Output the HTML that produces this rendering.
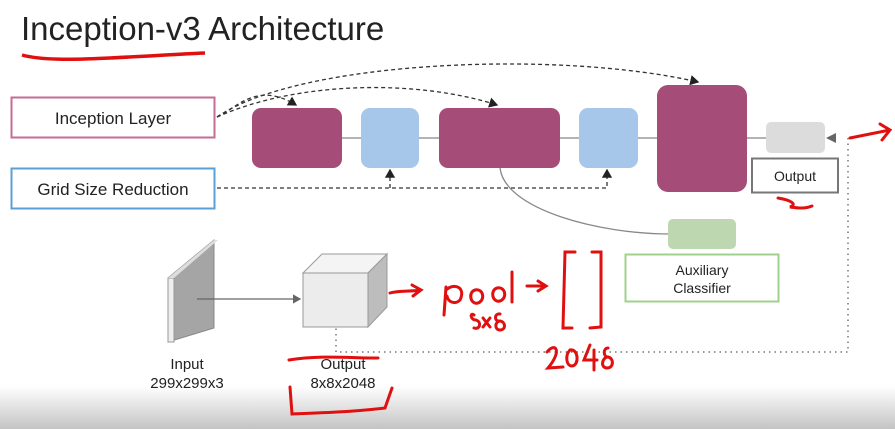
<!DOCTYPE html>
<html><head><style>
html,body{margin:0;padding:0;background:#fff;}
svg{display:block;font-family:"Liberation Sans",sans-serif;}
</style></head><body>
<svg width="895" height="429" viewBox="0 0 895 429" xmlns="http://www.w3.org/2000/svg">
<defs>
<linearGradient id="bg" x1="0" y1="0" x2="0" y2="1">
<stop offset="0" stop-color="#fff"/><stop offset="0.9" stop-color="#fff"/><stop offset="1" stop-color="#c4c4c4"/>
</linearGradient>
<marker id="ah" markerWidth="8" markerHeight="8" refX="6" refY="4" orient="auto"><path d="M0,0 L7,4 L0,8 z" fill="#222"/></marker>
<marker id="ag" markerWidth="8" markerHeight="8" refX="6" refY="4" orient="auto"><path d="M0,0 L7,4 L0,8 z" fill="#666"/></marker>
</defs>
<rect width="895" height="429" fill="url(#bg)"/>
<text x="21" y="40" font-size="33" fill="#222">Inception-v3 Architecture</text>
<path d="M22,55 C40,60 70,60 110,58 C150,56 180,54 205,53" stroke="#e01010" stroke-width="3.5" fill="none"/>
<!-- legend boxes -->
<rect x="11.5" y="97.5" width="203" height="40" fill="#fff" stroke="#c46b96" stroke-width="2"/>
<text x="113" y="124" font-size="17" text-anchor="middle" fill="#222">Inception Layer</text>
<rect x="11.5" y="168.5" width="203" height="40" fill="#fff" stroke="#5b9fd4" stroke-width="2"/>
<text x="113" y="195" font-size="17" text-anchor="middle" fill="#222">Grid Size Reduction</text>
<!-- dashed connectors -->
<g stroke="#333" stroke-width="1.3" fill="none" stroke-dasharray="4,3">
<path d="M217,117 C235,110 255,80 296,105" marker-end="url(#ah)"/>
<path d="M217,117 C300,80 420,80 497,105" marker-end="url(#ah)"/>
<path d="M217,117 C300,60 560,50 698,82" marker-end="url(#ah)"/>
<path d="M217,188 L607,188 L607,170" marker-end="url(#ah)"/>
<path d="M390,188 L390,170" marker-end="url(#ah)"/>
</g>
<!-- main line -->
<line x1="340" y1="138" x2="768" y2="138" stroke="#888" stroke-width="1.3"/>
<path d="M500,168 C505,210 600,234 670,234" stroke="#888" stroke-width="1.3" fill="none"/>
<rect x="252" y="108" width="90" height="60" rx="9" fill="#a54d78"/>
<rect x="361" y="108" width="58" height="60" rx="9" fill="#a6c7ea"/>
<rect x="439" y="108" width="121" height="60" rx="9" fill="#a54d78"/>
<rect x="579" y="108" width="59" height="60" rx="9" fill="#a6c7ea"/>
<rect x="657" y="85" width="90" height="107" rx="11" fill="#a54d78"/>
<rect x="766" y="122" width="59" height="31" rx="5" fill="#dcdcdc"/>
<rect x="752" y="158.5" width="86" height="34" fill="#fff" stroke="#777" stroke-width="2"/>
<text x="795" y="181" font-size="14" text-anchor="middle" fill="#222">Output</text>
<rect x="668" y="219" width="68" height="30" rx="5" fill="#bdd8b0"/>
<rect x="625.5" y="254.5" width="153" height="47" fill="#fff" stroke="#9fd08c" stroke-width="2"/>
<text x="702" y="275" font-size="14" text-anchor="middle" fill="#222">Auxiliary</text>
<text x="702" y="293" font-size="14" text-anchor="middle" fill="#222">Classifier</text>
<!-- dotted return -->
<path d="M848,138 L848,352 L336,352 L336,327" stroke="#777" stroke-width="1.5" fill="none" stroke-dasharray="1.5,4"/>
<path d="M826,138 L836,133 L836,143 z" fill="#666"/>
<!-- input slab -->
<polygon points="168,278 214,240 214,328 168,342" fill="#a5a5a5" stroke="#888"/>
<polygon points="168,278 174,278 174,342 168,342" fill="#eee" stroke="#999"/>
<polygon points="168,278 214,240 218,240 174,278" fill="#ddd"/>
<!-- cube -->
<polygon points="303,273 322,254 387,254 368,273" fill="#f4f4f4" stroke="#999"/>
<polygon points="368,273 387,254 387,307 368,327" fill="#bdbdbd" stroke="#999"/>
<rect x="303" y="273" width="65" height="54" fill="#ececec" stroke="#999"/>
<line x1="197" y1="299" x2="300" y2="299" stroke="#666" stroke-width="1.2" marker-end="url(#ag)"/>
<text x="187" y="369" font-size="15" text-anchor="middle" fill="#222">Input</text>
<text x="187" y="388" font-size="15" text-anchor="middle" fill="#222">299x299x3</text>
<text x="343" y="369" font-size="15" text-anchor="middle" fill="#222">Output</text>
<text x="343" y="388" font-size="15" text-anchor="middle" fill="#222">8x8x2048</text>
<!-- red annotations -->
<g stroke="#e01010" stroke-width="3" fill="none" stroke-linecap="round">
<path d="M289,360 C320,355 350,358 378,358"/>
<path d="M290,387 L292,414 C320,413 350,412 385,408 L392,388"/>
<path d="M390,293 C400,290 410,292 420,290 M412,285 L421,290 L413,296"/>
<path d="M446,287 L444,315 M446,290 C455,282 466,288 460,300 C455,305 448,302 447,296"/>
<path d="M475,290 C468,292 470,305 478,303 C486,300 483,288 475,290"/>
<path d="M497,288 C490,290 492,303 500,301 C508,298 505,286 497,288"/>
<path d="M512,272 L512,302"/>
<path d="M527,286 L545,286 M538,281 L546,286 L538,291"/>
<path d="M474,315 C470,312 470,320 476,320 C482,322 480,330 474,328 M483,318 L490,327 M490,318 L483,327 M500,314 C494,313 494,322 500,321 C506,322 506,330 500,330 C494,330 495,321 500,321"/>
<path d="M575,252 L565,252 L563,328 L572,328"/>
<path d="M592,252 L601,252 L601,327 L590,328"/>
<path d="M547,352 C555,342 563,350 548,368 L563,367 M570,350 C565,355 566,366 572,366 C580,365 578,348 570,350 M590,345 L584,360 L597,360 M594,350 L594,370 M608,348 C603,348 603,357 608,357 C614,358 614,368 607,368 C600,368 602,357 608,357"/>
<path d="M778,198 C790,200 798,204 790,207 C798,208 805,209 812,206"/>
<path d="M850,138 C860,136 875,133 890,130 M880,124 L890,130 L882,140"/>
</g>
</svg>
</body></html>
